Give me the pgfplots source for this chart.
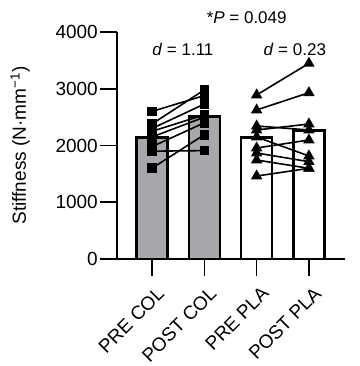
\documentclass[border=0pt]{standalone}
\usepackage{pgfplots}
\pgfplotsset{compat=1.18}
\usepackage{fontspec}
\setmainfont{Liberation Sans}
\definecolor{bargray}{RGB}{168,168,172}
\begin{document}
\begin{tikzpicture}
\begin{axis}[
  at={(0,0)}, anchor=south west,
  scale only axis, width=228pt, height=227pt,
  xmin=-0.67, xmax=3.69, ymin=0, ymax=4000,
  axis lines=left,
  x axis line style={-}, y axis line style={-},
  axis line style={line width=1.8pt, black},
  xtick align=outside, ytick align=outside,
  tickwidth=17pt, major tick length=17pt,
  tick style={line width=1.6pt, black},
  xtick={0,1,2,3},
  xticklabels={PRE COL, POST COL, PRE PLA, POST PLA},
  ytick={0,1000,2000,3000,4000},
  scaled ticks=false,
  /pgf/number format/1000 sep={},
  /pgf/number format/assume math mode=true,
  ticklabel style={font=\fontsize{19}{21}\selectfont},
  xticklabel style={xshift=4pt, yshift=-8pt, rotate=45, anchor=north east, inner sep=1pt},
  yticklabel style={inner sep=2pt},
  ylabel={Stiffness (N·mm\textsuperscript{−1})},
  every axis y label/.style={at={(axis description cs:-0.425,0.5)}, rotate=90, anchor=center, font=\fontsize{19}{21}\selectfont},
  clip=false,
]
% bars
\addplot[ybar, bar width=31pt, fill=bargray, draw=black, line width=2.6pt] coordinates {(0,2145) (1,2510)};
\addplot[ybar, bar width=31pt, fill=white, draw=black, line width=2.6pt] coordinates {(2,2140) (3,2262)};
% COL subjects
\pgfplotsset{colline/.style={black, line width=1.6pt, mark=square*, mark size=4pt, mark options={solid}}}
\addplot[colline] coordinates {(0,2600) (1,2880)};
\addplot[colline] coordinates {(0,2380) (1,2980)};
\addplot[colline] coordinates {(0,2300) (1,2730)};
\addplot[colline] coordinates {(0,2250) (1,2540)};
\addplot[colline] coordinates {(0,2150) (1,2500)};
\addplot[colline] coordinates {(0,1980) (1,2400)};
\addplot[colline] coordinates {(0,1900) (1,1910)};
\addplot[colline] coordinates {(0,1600) (1,2190)};
% PLA subjects
\pgfplotsset{plaline/.style={black, line width=1.6pt, mark=triangle*, mark size=5pt, mark options={solid}}}
\addplot[plaline] coordinates {(2,2890) (3,3448)};
\addplot[plaline] coordinates {(2,2626) (3,2930)};
\addplot[plaline] coordinates {(2,2344) (3,2273)};
\addplot[plaline] coordinates {(2,2273) (3,2379)};
\addplot[plaline] coordinates {(2,2150) (3,1815)};
\addplot[plaline] coordinates {(2,1956) (3,2097)};
\addplot[plaline] coordinates {(2,1868) (3,1715)};
\addplot[plaline] coordinates {(2,1744) (3,1598)};
\addplot[plaline] coordinates {(2,1462) (3,1598)};
% annotations
\node[font=\fontsize{17}{19}\selectfont] at (axis cs:0.59,3700) {\textit{d} = 1.11};
\node[font=\fontsize{17}{19}\selectfont] at (axis cs:2.73,3700) {\textit{d} = 0.23};
\node[font=\fontsize{17}{19}\selectfont] at (axis cs:1.81,4247) {*\textit{P} = 0.049};
\end{axis}
\pgfresetboundingbox
\path (-117pt,-107pt) rectangle (242pt,259pt);
\end{tikzpicture}
\end{document}
